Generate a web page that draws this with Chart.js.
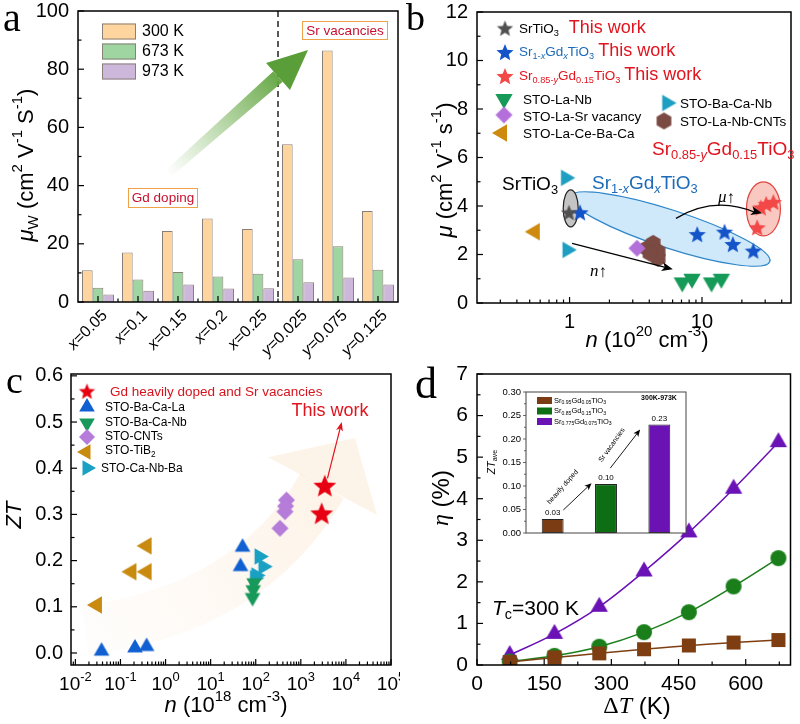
<!DOCTYPE html>
<html>
<head>
<meta charset="utf-8">
<script src="https://cdn.jsdelivr.net/npm/chart.js@4.4.1/dist/chart.umd.min.js"></script>
<style>
  body { margin: 0; background: #fff; }
  #fig { position: relative; width: 800px; height: 724px; overflow: hidden; background: #fff; }
  #fig canvas { position: absolute; }
</style>
</head>
<body>
<div id="fig">
  <canvas id="ca" width="400" height="360" style="left:0;top:0"></canvas>
  <canvas id="cb" width="400" height="360" style="left:400px;top:0"></canvas>
  <canvas id="cc" width="400" height="364" style="left:0;top:360px"></canvas>
  <canvas id="cd" width="400" height="364" style="left:400px;top:360px"></canvas>
  <canvas id="ce" width="214" height="162" style="left:478px;top:380px"></canvas>
</div>
<script>
// ---- dados ----
// (a) mobilidade ponderada
const aCats = ['x=0.05', 'x=0.1', 'x=0.15', 'x=0.2', 'x=0.25', 'y=0.025', 'y=0.075', 'y=0.125'];
const aSeries = ['300 K', '673 K', '973 K'];
const a300 = [10.9, 17.0, 24.4, 28.7, 25.1, 54.2, 86.4, 31.3];
const a673 = [4.9, 7.7, 10.3, 8.8, 9.7, 14.7, 19.2, 11.1];
const a973 = [2.6, 3.9, 6.0, 4.6, 4.7, 6.8, 8.4, 6.0];
const aYTicks = [0, 20, 40, 60, 80, 100];

// (b) mu vs n  [n (1e20 cm-3), mu]
const bSrTiO3 = [[0.99, 3.70]];
const bSrGd = [[1.2, 3.70], [9.2, 2.80], [14.8, 2.90], [17.1, 2.39], [24.4, 2.12]];
const bSrVac = [[26.1, 3.08], [27.8, 3.90], [30.5, 4.05], [34.6, 4.13]];
const bLaNb = [[7.1, 0.85], [8.4, 1.0], [11.8, 0.85], [14.0, 1.0]];
const bLaSrVac = [[3.23, 2.26]];
const bLaCeBaCa = [[0.546, 2.94]];
const bBaCaNb = [[0.935, 5.16], [0.96, 2.19]];
const bLaNbCNTs = [[3.83, 2.25], [4.28, 2.46], [4.66, 2.12], [4.66, 1.84], [4.05, 2.05]];
const bYTicks = [0, 2, 4, 6, 8, 10, 12];
const bXTicks = [1, 10];

// (c) ZT vs n  [n (1e18 cm-3), ZT]
const cThis = [[2900, 0.30], [3400, 0.36]];
const cBaCaLa = [[0.038, 0.004], [0.21, 0.011], [0.38, 0.014], [51, 0.229], [46, 0.187]];
const cBaCaNb = [[85, 0.12], [88, 0.137], [92, 0.152]];
const cCNTs = [[345, 0.27], [445, 0.306], [480, 0.331], [460, 0.318]];
const cTiB2 = [[0.03, 0.104], [0.175, 0.176], [0.38, 0.176], [0.38, 0.232]];
const cCaNbBa = [[95, 0.162], [120, 0.209], [146, 0.187], [102, 0.168]];
const cYTicks = [0, 0.1, 0.2, 0.3, 0.4, 0.5, 0.6];
const cXExp = [-2, -1, 0, 1, 2, 3, 4, 5];

// (d) eficiencia vs dT
const dT = [73, 173, 273, 373, 473, 573, 673];
const dEta05 = [0.07, 0.18, 0.28, 0.38, 0.47, 0.54, 0.60];
const dEta15 = [0.08, 0.22, 0.44, 0.79, 1.27, 1.89, 2.57];
const dEtaVac = [0.24, 0.75, 1.40, 2.25, 3.19, 4.24, 5.36];
const dXTicks = [0, 150, 300, 450, 600];
const dYTicks = [0, 1, 2, 3, 4, 5, 6, 7];
const dInsetCats = ['Sr0.95Gd0.05TiO3', 'Sr0.85Gd0.15TiO3', 'Sr0.775Gd0.075TiO3'];
const dInsetZT = [0.030, 0.104, 0.231];
const dInsetLabels = ['0.03', '0.10', '0.23'];
const dInsetTicks = [0, 0.05, 0.10, 0.15, 0.20, 0.25, 0.30];

// ---- utilidades ----
const SANS = '"Liberation Sans", Arial, Helvetica, sans-serif';
const SERIF = '"Liberation Serif", "Times New Roman", serif';
Chart.defaults.font.family = SANS;
Chart.defaults.color = '#000';

// texto com sub/sobrescrito: prefixos _ (sub) ^ (sup) ~ (italico) & (serif)
function rich(ctx, parts, x, y, o = {}) {
  const size = o.size || 14;
  const segs = parts.map(raw => {
    let p = raw, sub = false, sup = false, it = false, serif = false;
    while (p.length > 1 && '_^~&'.includes(p[0])) {
      if (p[0] === '_') sub = true; else if (p[0] === '^') sup = true;
      else if (p[0] === '~') it = true; else serif = true;
      p = p.slice(1);
    }
    const fs = (sub || sup) ? size * 0.68 : size;
    return {
      t: p, dy: sub ? size * 0.3 : sup ? -size * 0.4 : 0,
      font: `${it ? 'italic ' : ''}${o.bold ? 'bold ' : ''}${fs.toFixed(1)}px ${serif || o.serif ? SERIF : SANS}`
    };
  });
  ctx.save();
  let w = 0;
  segs.forEach(s => { ctx.font = s.font; s.w = ctx.measureText(s.t).width; w += s.w; });
  ctx.translate(x, y);
  if (o.rot) ctx.rotate(o.rot);
  let cx = o.align === 'center' ? -w / 2 : o.align === 'right' ? -w : 0;
  ctx.fillStyle = o.color || '#000';
  ctx.textBaseline = o.baseline || 'middle';
  ctx.textAlign = 'left';
  segs.forEach(s => { ctx.font = s.font; ctx.fillText(s.t, cx, s.dy); cx += s.w; });
  ctx.restore();
  return w;
}
// "Sr0.95Gd0.05TiO3" -> partes com subscritos
function chem(str) {
  const out = [];
  str.replace(/([A-Z][a-z]?)([0-9.]*)/g, (m, el, num) => { out.push(el); if (num) out.push('_' + num); });
  return out;
}

// marcadores desenhados num canvas pequeno (usados como pointStyle)
function mk(shape, color, r) {
  const s = Math.ceil(r * 2 + 4), c = document.createElement('canvas');
  c.width = c.height = s;
  const g = c.getContext('2d'), h = s / 2;
  const poly = (n, rot) => { for (let i = 0; i < n; i++) { const t = rot + i * 2 * Math.PI / n; g.lineTo(h + r * Math.cos(t), h + r * Math.sin(t)); } };
  g.fillStyle = color;
  g.beginPath();
  if (shape === 'star') {
    for (let i = 0; i < 10; i++) {
      const t = -Math.PI / 2 + i * Math.PI / 5, rr = i % 2 ? r * 0.44 : r;
      g.lineTo(h + rr * Math.cos(t), h + rr * Math.sin(t));
    }
  } else if (shape === 'up') poly(3, -Math.PI / 2);
  else if (shape === 'down') poly(3, Math.PI / 2);
  else if (shape === 'left') poly(3, Math.PI);
  else if (shape === 'right') poly(3, 0);
  else if (shape === 'diamond') poly(4, 0);
  else if (shape === 'hex') poly(6, -Math.PI / 2);
  else if (shape === 'square') g.rect(h - r, h - r, 2 * r, 2 * r);
  else g.arc(h, h, r, 0, 2 * Math.PI);
  g.closePath();
  g.fill();
  return c;
}
function stamp(ctx, img, x, y) { ctx.drawImage(img, x - img.width / 2, y - img.height / 2); }

function seg(ctx, x1, y1, x2, y2) { ctx.beginPath(); ctx.moveTo(x1, y1); ctx.lineTo(x2, y2); ctx.stroke(); }
function head(ctx, fx, fy, x, y, hl, hw, color) {
  const L = Math.hypot(x - fx, y - fy), ux = (x - fx) / L, uy = (y - fy) / L;
  ctx.fillStyle = color;
  ctx.beginPath();
  ctx.moveTo(x, y);
  ctx.lineTo(x - ux * hl - uy * hw, y - uy * hl + ux * hw);
  ctx.lineTo(x - ux * hl * 0.75, y - uy * hl * 0.75);
  ctx.lineTo(x - ux * hl + uy * hw, y - uy * hl - ux * hw);
  ctx.closePath();
  ctx.fill();
}
function arrow(ctx, x1, y1, x2, y2, color, lw, hl, hw) {
  ctx.strokeStyle = color; ctx.lineWidth = lw;
  const L = Math.hypot(x2 - x1, y2 - y1);
  seg(ctx, x1, y1, x2 - (x2 - x1) / L * hl * 0.7, y2 - (y2 - y1) / L * hl * 0.7);
  head(ctx, x1, y1, x2, y2, hl, hw, color);
}

// moldura + ticks para dentro
function axesPlugin(o) {
  return {
    id: 'axes',
    afterDatasetsDraw(chart) {
      const { ctx, chartArea: a, scales: { x, y } } = chart;
      const d = o.out ? -1 : 1, M = o.maj || 6, m = o.min || 3.5;
      ctx.save();
      ctx.strokeStyle = o.color || '#000';
      ctx.lineWidth = o.tw || 1.2;
      (o.xMaj || []).forEach(v => { const p = x.getPixelForValue(v); seg(ctx, p, a.bottom, p, a.bottom - d * M); });
      (o.xMin || []).forEach(v => { const p = x.getPixelForValue(v); seg(ctx, p, a.bottom, p, a.bottom - d * m); });
      (o.yMaj || []).forEach(v => { const p = y.getPixelForValue(v); seg(ctx, a.left, p, a.left + d * M, p); });
      (o.yMin || []).forEach(v => { const p = y.getPixelForValue(v); seg(ctx, a.left, p, a.left + d * m, p); });
      ctx.lineWidth = o.fw || 1.5;
      ctx.strokeRect(a.left, a.top, a.right - a.left, a.bottom - a.top);
      ctx.restore();
    }
  };
}
const noGrid = { display: false, drawTicks: false };
const noBorder = { display: false };
const fixY = w => s => { s.width = w; s.paddingTop = 0; s.paddingBottom = 0; };
const fixX = h => s => { s.height = h; s.paddingLeft = 0; s.paddingRight = 0; };
const setTicks = vals => s => { s.ticks = vals.map(v => ({ value: v })); };
const mids = (vals, step) => vals.slice(0, -1).map(v => v + step / 2);
const xy = arr => arr.map(([x, y]) => ({ x, y }));
const logMinor = (lo, hi) => {
  const out = [];
  for (let k = Math.floor(Math.log10(lo)); k <= Math.ceil(Math.log10(hi)); k++)
    for (let m = 2; m <= 9; m++) { const v = m * 10 ** k; if (v > lo && v < hi) out.push(v); }
  return out;
};
const base = { responsive: false, animation: false, plugins: { legend: { display: false }, tooltip: { enabled: false } } };
const letter = (ctx, t, x, y, size) => {
  ctx.save(); ctx.font = `${size}px ${SERIF}`; ctx.fillStyle = '#000'; ctx.textBaseline = 'alphabetic';
  ctx.fillText(t, x, y); ctx.restore();
};

// ================= (a) =================
const aColors = ['#FFD59F', '#9ED5A0', '#CDB8DC'];
const aDecor = {
  id: 'aDecor',
  afterDatasetsDraw(chart) {
    const { ctx, chartArea: a, scales: { x, y } } = chart;
    ctx.save();
    const dx = x.getPixelForValue(4.5);
    ctx.setLineDash([6, 4]); ctx.lineWidth = 1.5; ctx.strokeStyle = '#222';
    seg(ctx, dx, a.top, dx, a.bottom);
    ctx.setLineDash([]);
    // seta verde (inicio -> ponta)
    const S = [x.getPixelForValue(1.75), y.getPixelForValue(44)];
    const T = [x.getPixelForValue(5.25), y.getPixelForValue(86.6)];
    const L = Math.hypot(T[0] - S[0], T[1] - S[1]), ux = (T[0] - S[0]) / L, uy = (T[1] - S[1]) / L;
    const nx = -uy, ny = ux, hl = 40, w = 7, hw = 18;
    const B = [T[0] - ux * hl, T[1] - uy * hl];
    const g = ctx.createLinearGradient(S[0], S[1], B[0], B[1]);
    g.addColorStop(0, 'rgba(120,180,90,0)');
    g.addColorStop(1, 'rgba(96,164,62,0.95)');
    ctx.fillStyle = g;
    ctx.beginPath();
    ctx.moveTo(S[0] + nx * w * 0.6, S[1] + ny * w * 0.6); ctx.lineTo(B[0] + nx * w, B[1] + ny * w);
    ctx.lineTo(B[0] - nx * w, B[1] - ny * w); ctx.lineTo(S[0] - nx * w * 0.6, S[1] - ny * w * 0.6);
    ctx.closePath(); ctx.fill();
    ctx.fillStyle = '#5A9E3A';
    ctx.beginPath();
    ctx.moveTo(B[0] + nx * hw, B[1] + ny * hw); ctx.lineTo(T[0], T[1]); ctx.lineTo(B[0] - nx * hw, B[1] - ny * hw);
    ctx.closePath(); ctx.fill();
    ctx.restore();
  },
  afterDraw(chart) {
    const { ctx, chartArea: a, scales: { x } } = chart;
    ctx.save();
    // legenda
    aSeries.forEach((s, i) => {
      const yy = 23.5 + i * 20;
      ctx.fillStyle = aColors[i]; ctx.fillRect(102, yy, 34, 16);
      ctx.strokeStyle = '#8a8078'; ctx.lineWidth = 1; ctx.strokeRect(102.5, yy + 0.5, 33, 15);
      rich(ctx, [s], 142, yy + 8, { size: 16 });
    });
    // caixas de texto
    const box = (x0, y0, w, h, t) => {
      ctx.fillStyle = '#fff'; ctx.fillRect(x0, y0, w, h);
      ctx.strokeStyle = '#F0A24A'; ctx.lineWidth = 1; ctx.strokeRect(x0 + 0.5, y0 + 0.5, w, h);
      rich(ctx, [t], x0 + w / 2 + 0.5, y0 + h / 2 + 1, { size: 13.5, color: '#C8102E', align: 'center' });
    };
    box(302, 21, 85, 18, 'Sr vacancies');
    box(128, 188, 69, 19, 'Gd doping');
    // rotulos do eixo x
    aCats.forEach((c, i) => {
      const px = x.getPixelForValue(i);
      rich(ctx, ['~' + c[0], c.slice(1)], px + 7, a.bottom + 11, { size: 16, align: 'right', rot: -Math.PI / 4 });
    });
    rich(ctx, ['~μ', '_W', ' (cm', '^2', ' V', '^-1', ' S', '^-1', ')'], 27, 165, { size: 22, align: 'center', rot: -Math.PI / 2 });
    letter(ctx, 'a', 3, 31, 40);
    ctx.restore();
  }
};
new Chart(document.getElementById('ca'), {
  type: 'bar',
  data: {
    labels: aCats,
    datasets: [a300, a673, a973].map((d, i) => ({
      label: aSeries[i], data: d, backgroundColor: aColors[i], borderColor: '#8a8078', borderWidth: 1,
      categoryPercentage: 0.8, barPercentage: 1
    }))
  },
  options: {
    ...base,
    layout: { padding: { left: 0, right: 2, top: 11, bottom: 0 } },
    scales: {
      x: { grid: noGrid, border: noBorder, ticks: { display: false }, afterFit: fixX(58) },
      y: {
        min: 0, max: 100, grid: noGrid, border: noBorder,
        ticks: { font: { size: 20 }, color: '#000', padding: 9 },
        afterBuildTicks: setTicks(aYTicks), afterFit: fixY(78)
      }
    }
  },
  plugins: [aDecor, axesPlugin({ xMaj: aCats.map((c, i) => i), xMin: aCats.slice(1).map((c, i) => i + 0.5), yMaj: aYTicks, yMin: mids(aYTicks, 20) })]
});

// ================= (b) =================
const bM = {
  gray: mk('star', '#505050', 8.5), blue: mk('star', '#1553C9', 9), red: mk('star', '#F24848', 9),
  green: mk('down', '#169A58', 10), purple: mk('diamond', '#B470DA', 8.5), orange: mk('left', '#CD8A0E', 10),
  cyan: mk('right', '#1E9FC2', 9.5), brown: mk('hex', '#7A4A43', 8.5)
};
const bDecor = {
  id: 'bDecor',
  beforeDatasetsDraw(chart) {
    const { ctx, scales: { x, y } } = chart;
    const P = (u, v) => [x.getPixelForValue(u), y.getPixelForValue(v)];
    const ell = (c, rx, ry, rot, fill, stroke) => {
      ctx.beginPath(); ctx.ellipse(c[0], c[1], rx, ry, rot, 0, 2 * Math.PI);
      ctx.fillStyle = fill; ctx.fill(); ctx.strokeStyle = stroke; ctx.lineWidth = 1.2; ctx.stroke();
    };
    ctx.save();
    ell(P(5.73, 3.05), 105, 19, 18 * Math.PI / 180, '#CFE9FB', '#2E86C8');
    ell(P(1.02, 3.9), 7.5, 18.5, 0, '#C4C4C4', '#222');
    ell(P(29.1, 3.88), 17, 27, 0, 'rgba(248,190,182,0.85)', '#E0453E');
    ctx.restore();
  },
  afterDatasetsDraw(chart) {
    const { ctx, scales: { x, y } } = chart;
    const P = (u, v) => [x.getPixelForValue(u), y.getPixelForValue(v)];
    ctx.save();
    const n1 = P(1.045, 2.46), n2 = P(6.02, 1.39);
    arrow(ctx, n1[0], n1[1], n2[0], n2[1], '#000', 1.2, 11, 4.5);
    const m1 = P(6.36, 3.49), mq = P(12.5, 4.45), m2 = P(28.4, 3.7);
    ctx.strokeStyle = '#000'; ctx.lineWidth = 1.2;
    ctx.beginPath(); ctx.moveTo(m1[0], m1[1]); ctx.quadraticCurveTo(mq[0], mq[1], m2[0] - 6, m2[1] - 0.5); ctx.stroke();
    head(ctx, mq[0], mq[1] + 6, m2[0], m2[1], 11, 4.5, '#000');
    rich(ctx, ['&~n', '↑'], 190, 272, { size: 17 });
    rich(ctx, ['&~μ', '↑'], 318, 198, { size: 17 });
    ctx.restore();
  },
  afterDraw(chart) {
    const { ctx } = chart;
    ctx.save();
    const red = '#E0141E', blue = '#1D6BB8';
    stamp(ctx, bM.gray, 105, 29);
    let w = rich(ctx, ['Sr', 'TiO', '_3'], 119, 29, { size: 13.5 });
    rich(ctx, ['This work'], 119 + w + 10, 28, { size: 18, color: red });
    stamp(ctx, bM.blue, 105, 53);
    w = rich(ctx, ['Sr', '_1-', '_~x', 'Gd', '_~x', 'TiO', '_3'], 119, 52, { size: 13.5, color: blue });
    rich(ctx, ['This work'], 119 + w + 4, 51, { size: 18, color: red });
    stamp(ctx, bM.red, 105, 77);
    w = rich(ctx, ['Sr', '_0.85-', '_~y', 'Gd', '_0.15', 'TiO', '_3'], 119, 76, { size: 13.5, color: red });
    rich(ctx, ['This work'], 119 + w + 4, 75, { size: 18, color: red });
    stamp(ctx, bM.green, 104, 99);
    rich(ctx, ['STO-La-Nb'], 123, 100, { size: 13.5 });
    stamp(ctx, bM.purple, 104, 115);
    rich(ctx, ['STO-La-Sr vacancy'], 123, 117, { size: 13.5 });
    stamp(ctx, bM.orange, 102, 133);
    rich(ctx, ['STO-La-Ce-Ba-Ca'], 123, 134, { size: 13.5 });
    stamp(ctx, bM.cyan, 267, 103);
    rich(ctx, ['STO-Ba-Ca-Nb'], 280, 104, { size: 13.5 });
    stamp(ctx, bM.brown, 264, 121);
    rich(ctx, ['STO-La-Nb-CNTs'], 280, 122, { size: 13.5 });
    rich(ctx, ['Sr', '_0.85-', '_~y', 'Gd', '_0.15', 'TiO', '_3'], 252, 150, { size: 19, color: red });
    rich(ctx, ['Sr', 'TiO', '_3'], 102, 185, { size: 19 });
    rich(ctx, ['Sr', '_1-', '_~x', 'Gd', '_~x', 'TiO', '_3'], 192, 184, { size: 19, color: blue });
    rich(ctx, ['~μ', ' (cm', '^2', ' V', '^-1', ' s', '^-1', ')'], 46, 170, { size: 22, align: 'center', rot: -Math.PI / 2 });
    rich(ctx, ['~n', ' (10', '^20', ' cm', '^-3', ')'], 247, 341, { size: 22, align: 'center' });
    letter(ctx, 'b', 6, 30, 38);
    ctx.restore();
  }
};
const bSets = [
  [bLaCeBaCa, bM.orange, 'STO-La-Ce-Ba-Ca'], [bBaCaNb, bM.cyan, 'STO-Ba-Ca-Nb'], [bLaNb, bM.green, 'STO-La-Nb'],
  [bLaSrVac, bM.purple, 'STO-La-Sr vacancy'], [bLaNbCNTs, bM.brown, 'STO-La-Nb-CNTs'],
  [bSrTiO3, bM.gray, 'SrTiO3'], [bSrGd, bM.blue, 'Sr1-xGdxTiO3'], [bSrVac, bM.red, 'Sr0.85-yGd0.15TiO3']
];
new Chart(document.getElementById('cb'), {
  type: 'scatter',
  data: { datasets: bSets.map(([d, m, l]) => ({ label: l, data: xy(d), pointStyle: m, pointRadius: 8 })) },
  options: {
    ...base,
    layout: { padding: { left: 0, right: 2, top: 12, bottom: 0 } },
    scales: {
      x: {
        type: 'logarithmic', min: 0.2, max: 47, grid: noGrid, border: noBorder,
        ticks: { font: { size: 20 }, color: '#000', padding: 7, autoSkip: false, maxRotation: 0, callback: v => String(v) },
        afterBuildTicks: setTicks(bXTicks), afterFit: fixX(57)
      },
      y: {
        min: 0, max: 12, grid: noGrid, border: noBorder,
        ticks: { font: { size: 20 }, color: '#000', padding: 9 },
        afterBuildTicks: setTicks(bYTicks), afterFit: fixY(77)
      }
    }
  },
  plugins: [bDecor, axesPlugin({ xMaj: bXTicks, xMin: logMinor(0.2, 47), yMaj: bYTicks, yMin: mids(bYTicks, 2) })]
});

// ================= (c) =================
const cM = {
  red: mk('star', '#E60012', 12), blue: mk('up', '#1160D2', 9), green: mk('down', '#16995A', 9),
  purple: mk('diamond', '#B57CD9', 8.5), orange: mk('left', '#C98A10', 10), cyan: mk('right', '#1AA0C2', 9.5)
};
const cLeg = {
  red: mk('star', '#E60012', 8.5), blue: mk('up', '#1160D2', 9), green: mk('down', '#16995A', 9),
  purple: mk('diamond', '#B57CD9', 8), orange: mk('left', '#C98A10', 9), cyan: mk('right', '#1AA0C2', 9)
};
const cDecor = {
  id: 'cDecor',
  beforeDatasetsDraw(chart) {
    const { ctx, scales: { x, y } } = chart;
    const P = (u, v) => [x.getPixelForValue(u), y.getPixelForValue(v)];
    ctx.save();
    // seta larga e esmaecida ao fundo
    const s = P(0.0164, 0.05), q = P(74.6, 0.093), e = P(2950, 0.3615);
    const g = ctx.createLinearGradient(s[0], s[1], e[0], e[1]);
    g.addColorStop(0, 'rgba(252,230,208,0.08)');
    g.addColorStop(1, 'rgba(250,218,182,0.32)');
    ctx.strokeStyle = g; ctx.lineWidth = 50;
    ctx.beginPath(); ctx.moveTo(s[0], s[1]); ctx.quadraticCurveTo(q[0], q[1], e[0], e[1]); ctx.stroke();
    const t = P(15920, 0.4655), c1 = P(187, 0.424), c2 = P(48900, 0.299);
    ctx.fillStyle = 'rgba(250,218,182,0.3)';
    ctx.beginPath(); ctx.moveTo(c1[0], c1[1]); ctx.lineTo(t[0], t[1]); ctx.lineTo(c2[0], c2[1]); ctx.closePath(); ctx.fill();
    ctx.restore();
  },
  afterDraw(chart) {
    const { ctx, chartArea: a, scales: { x, y } } = chart;
    const P = (u, v) => [x.getPixelForValue(u), y.getPixelForValue(v)];
    ctx.save();
    const r1 = P(3900, 0.378), r2 = P(8070, 0.50);
    arrow(ctx, r1[0], r1[1], r2[0], r2[1], '#E0141E', 1.2, 9, 3.5);
    rich(ctx, ['This work'], 330, 51, { size: 18, color: '#E0141E', align: 'center' });
    const red = '#D7141E';
    stamp(ctx, cLeg.red, 87, 32);
    rich(ctx, ['Gd heavily doped and Sr vacancies'], 110, 32, { size: 13.5, color: red });
    stamp(ctx, cLeg.blue, 87, 47);
    rich(ctx, ['STO-Ba-Ca-La'], 105, 48, { size: 12 });
    stamp(ctx, cLeg.green, 87, 63);
    rich(ctx, ['STO-Ba-Ca-Nb'], 105, 63, { size: 12 });
    stamp(ctx, cLeg.purple, 87, 77);
    rich(ctx, ['STO-CNTs'], 105, 77, { size: 12 });
    stamp(ctx, cLeg.orange, 86, 92);
    rich(ctx, ['STO-TiB', '_2'], 105, 91, { size: 12 });
    stamp(ctx, cLeg.cyan, 87, 108);
    rich(ctx, ['STO-Ca-Nb-Ba'], 101, 109, { size: 12 });
    // rotulos log do eixo x
    cXExp.forEach(k => {
      const px = x.getPixelForValue(10 ** k);
      rich(ctx, ['10', '^' + k], px, a.bottom + 20, { size: 19, align: 'center' });
    });
    rich(ctx, ['~ZT'], 15, 155, { size: 22, align: 'center', rot: -Math.PI / 2 });
    rich(ctx, ['~n', ' (10', '^18', ' cm', '^-3', ')'], 226, 346, { size: 22, align: 'center' });
    letter(ctx, 'c', 6, 33, 38);
    ctx.restore();
  }
};
const cSets = [
  [cTiB2, cM.orange, 'STO-TiB2'], [cBaCaLa, cM.blue, 'STO-Ba-Ca-La'], [cBaCaNb, cM.green, 'STO-Ba-Ca-Nb'],
  [cCaNbBa, cM.cyan, 'STO-Ca-Nb-Ba'], [cCNTs, cM.purple, 'STO-CNTs'], [cThis, cM.red, 'Gd heavily doped and Sr vacancies']
];
new Chart(document.getElementById('cc'), {
  type: 'scatter',
  data: { datasets: cSets.map(([d, m, l]) => ({ label: l, data: xy(d), pointStyle: m, pointRadius: 8 })) },
  options: {
    ...base,
    layout: { padding: { left: 0, right: 9, top: 14, bottom: 0 } },
    scales: {
      x: {
        type: 'logarithmic', min: 0.008, max: 1e5, grid: noGrid, border: noBorder, ticks: { display: false },
        afterBuildTicks: setTicks(cXExp.map(k => 10 ** k)), afterFit: fixX(59)
      },
      y: {
        min: -0.026, max: 0.604, grid: noGrid, border: noBorder,
        ticks: { font: { size: 20 }, color: '#000', padding: 8, callback: v => v.toFixed(1) },
        afterBuildTicks: setTicks(cYTicks), afterFit: fixY(71)
      }
    }
  },
  plugins: [cDecor, axesPlugin({ xMaj: cXExp.map(k => 10 ** k), xMin: logMinor(0.008, 1e5), yMaj: cYTicks, yMin: mids(cYTicks, 0.1) })]
});

// ================= (d) =================
const dCol = { brown: '#7E3E12', green: '#1A7F1A', purple: '#6A12B6' };
const dDecor = {
  id: 'dDecor',
  afterDraw(chart) {
    const { ctx } = chart;
    rich(ctx, ['&~η', ' (%)'], 42, 138, { size: 24, align: 'center', rot: -Math.PI / 2 });
    rich(ctx, ['&Δ', '&~T', ' (K)'], 237, 347, { size: 24, align: 'center' });
    rich(ctx, ['~T', '_c', '=300 K'], 92, 249, { size: 21 });
    letter(ctx, 'd', 15, 38, 44);
  }
};
const dSets = [
  [dEta05, dCol.brown, mk('square', dCol.brown, 7), 'Sr0.95Gd0.05TiO3'],
  [dEta15, dCol.green, mk('circle', dCol.green, 8), 'Sr0.85Gd0.15TiO3'],
  [dEtaVac, dCol.purple, mk('up', dCol.purple, 10), 'Sr0.775Gd0.075TiO3']
];
new Chart(document.getElementById('cd'), {
  type: 'line',
  data: {
    datasets: dSets.map(([d, c, m, l]) => ({
      label: l, data: dT.map((t, i) => ({ x: t, y: d[i] })), borderColor: c, borderWidth: 1.5,
      pointStyle: m, pointRadius: 8, tension: 0.35, fill: false
    }))
  },
  options: {
    ...base,
    layout: { padding: { left: 0, right: 3, top: 14, bottom: 0 } },
    scales: {
      x: {
        type: 'linear', min: 0, max: 700, grid: noGrid, border: noBorder,
        ticks: { font: { size: 21 }, color: '#000', padding: 7, autoSkip: false, maxRotation: 0 },
        afterBuildTicks: setTicks(dXTicks), afterFit: fixX(59)
      },
      y: {
        min: 0, max: 7, grid: noGrid, border: noBorder,
        ticks: { font: { size: 21 }, color: '#000', padding: 9 },
        afterBuildTicks: setTicks(dYTicks), afterFit: fixY(77)
      }
    }
  },
  plugins: [dDecor, axesPlugin({ xMaj: dXTicks, xMin: [75, 225, 375, 525, 675], yMaj: dYTicks, yMin: mids(dYTicks, 1) })]
});

// inset de (d)
const eColors = ['#7B3C14', '#0E6E14', '#6A12B4'];
const eDecor = {
  id: 'eDecor',
  beforeDraw(chart) {
    const { ctx, chartArea: a } = chart;
    ctx.fillStyle = '#fff';
    ctx.fillRect(a.left, a.top, a.right - a.left, a.bottom - a.top);
  },
  afterDraw(chart) {
    const { ctx, scales: { x, y } } = chart;
    const P = (u, v) => [x.getPixelForValue(u), y.getPixelForValue(v)];
    ctx.save();
    dInsetCats.forEach((c, i) => {
      const yy = 17 + i * 10.5;
      ctx.fillStyle = eColors[i]; ctx.fillRect(59, yy, 15, 7);
      rich(ctx, chem(c), 76, yy + 3.5, { size: 7.5 });
      const [px, py] = P(i, dInsetZT[i]);
      rich(ctx, [dInsetLabels[i]], px, py - 6, { size: 8, align: 'center' });
    });
    rich(ctx, ['300K-973K'], 181, 18, { size: 7, bold: true, align: 'center' });
    const a1 = P(0.2, 0.049), a2 = P(0.73, 0.106);
    arrow(ctx, a1[0], a1[1], a2[0], a2[1], '#000', 0.9, 7, 3);
    const b1 = P(1.08, 0.138), b2 = P(1.64, 0.22);
    arrow(ctx, b1[0], b1[1], b2[0], b2[1], '#000', 0.9, 7, 3);
    const t1 = P(0.19, 0.098), t2 = P(1.11, 0.187);
    rich(ctx, ['heavily doped'], t1[0], t1[1], { size: 7, align: 'center', rot: -0.85 });
    rich(ctx, ['Sr vacancies'], t2[0], t2[1], { size: 7, align: 'center', rot: -0.95 });
    rich(ctx, ['~ZT', '_ave'], 14, 82, { size: 10.5, align: 'center', rot: -Math.PI / 2 });
    ctx.restore();
  }
};
new Chart(document.getElementById('ce'), {
  type: 'bar',
  data: {
    labels: dInsetCats,
    datasets: [{ label: 'ZTave', data: dInsetZT, backgroundColor: eColors, borderColor: '#222', borderWidth: 1, borderSkipped: false, categoryPercentage: 1, barPercentage: 0.41 }]
  },
  options: {
    ...base,
    layout: { padding: { left: 0, right: 6, top: 12, bottom: 0 } },
    scales: {
      x: { grid: noGrid, border: noBorder, ticks: { display: false }, afterFit: fixX(9) },
      y: {
        min: 0, max: 0.30, grid: noGrid, border: noBorder,
        ticks: { font: { size: 9.5 }, color: '#000', padding: 5, callback: v => v.toFixed(2) },
        afterBuildTicks: setTicks(dInsetTicks), afterFit: fixY(48)
      }
    }
  },
  plugins: [eDecor, axesPlugin({ out: true, maj: 3, min: 2, yMaj: dInsetTicks, yMin: mids(dInsetTicks, 0.05), fw: 1, tw: 0.8, color: '#444' })]
});
</script>
</body>
</html>
